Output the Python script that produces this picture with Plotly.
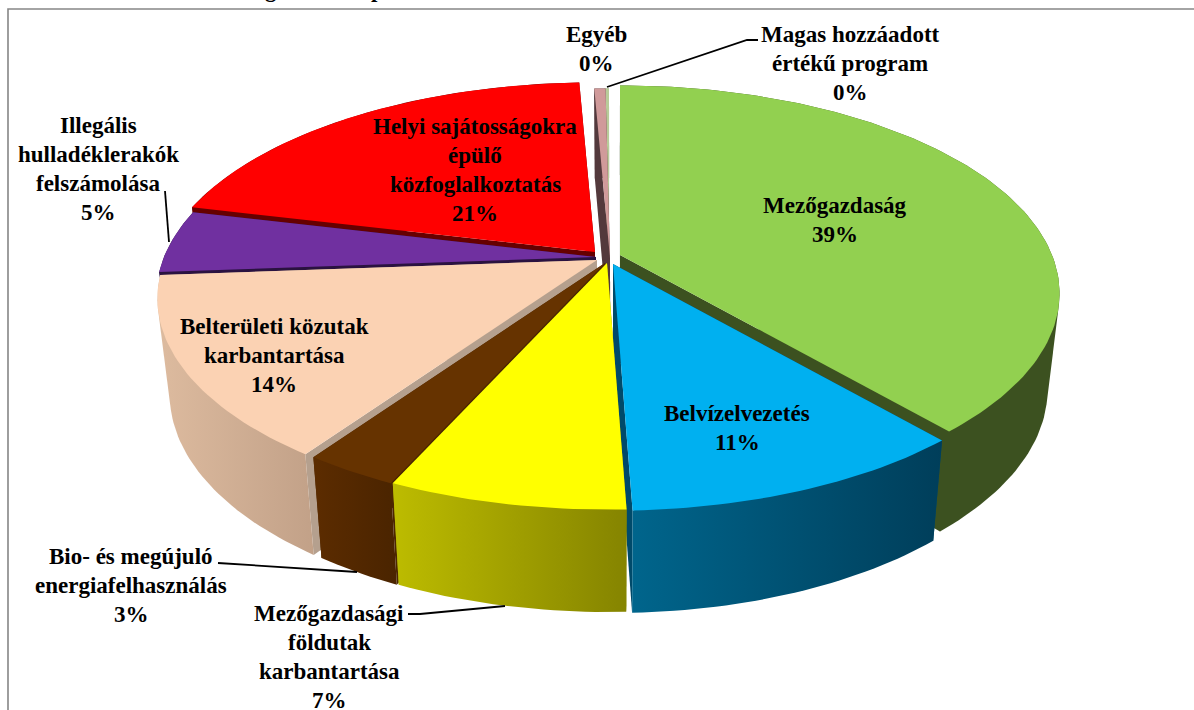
import math
import plotly.graph_objects as go

# ---- data ----
categories = ["Mezőgazdaság", "Belvízelvezetés", "Mezőgazdasági földutak karbantartása",
              "Bio- és megújuló energiafelhasználás", "Belterületi közutak karbantartása",
              "Illegális hulladéklerakók felszámolása",
              "Helyi sajátosságokra épülő közfoglalkoztatás", "Egyéb",
              "Magas hozzáadott értékű program"]
values = [39.4, 11, 7.5, 3, 14.4, 5, 21, 0.5, 0.2]
label_lines = [["Mezőgazdaság"], ["Belvízelvezetés"], ["Mezőgazdasági", "földutak", "karbantartása"],
               ["Bio- és megújuló", "energiafelhasználás"], ["Belterületi közutak", "karbantartása"],
               ["Illegális", "hulladéklerakók", "felszámolása"],
               ["Helyi sajátosságokra", "épülő", "közfoglalkoztatás"], ["Egyéb"],
               ["Magas hozzáadott", "értékű program"]]

# ---- styles ----
top_colors = ["#92D050", "#00B0F0", "#FFFF00", "#663300", "#FBD2B3", "#7030A0", "#FF0000", "#D09A9A", "#B8CC9A"]
cut_colors = ["#3C5120", "#004A6A", "#8A8900", "#4C2600", "#B5A08E", "#2A1240", "#660000", "#53393C", "#8A9A70"]
wall_left = ["#3C5120", "#00658C", "#BDBC00", "#5C2C00", "#DDBB9F", "#2A1240", "#660000", "#53393C", "#8A9A70"]
wall_right = ["#3C5120", "#003E5A", "#858400", "#4A2400", "#C2A188", "#2A1240", "#660000", "#53393C", "#8A9A70"]
FONT = "Liberation Serif"
FS = 23

# ---- drawing geometry (pixel space of the hidden axes) ----
RX, RY, K = 432, 201, 0.185
XC, SCALE = 615, 0.973
apex = [(620, 255), (613, 264), (607, 263), (605, 263), (597, 260), (596, 257), (595, 252), (610, 258), (609, 258)]
paint_order = [8, 7, 6, 5, 4, 3, 0, 1, 2]


def rim(ax, ay, theta):
    u, v = math.sin(theta), -math.cos(theta)
    s = 1 / (1 - K * v)
    return ax + s * RX * u, ay + s * RY * v


def lower(p):
    return XC + SCALE * (p[0] - XC), p[1] + 95 + 0.03 * (p[1] - 265)


def hull(points):
    pts = sorted(set(points))

    def half(seq):
        out = []
        for p in seq:
            while len(out) > 1 and (out[-1][0] - out[-2][0]) * (p[1] - out[-2][1]) - (out[-1][1] - out[-2][1]) * (p[0] - out[-2][0]) <= 0:
                out.pop()
            out.append(p)
        return out
    a, b = half(pts), half(pts[::-1])
    return a[:-1] + b[:-1]


def poly(pts, name, color=None, grad=None):
    xs = [p[0] for p in pts] + [pts[0][0]]
    ys = [p[1] for p in pts] + [pts[0][1]]
    kw = dict(fillgradient=dict(type="horizontal", colorscale=[[0, grad[0]], [1, grad[1]]])) if grad else dict(fillcolor=color)
    return go.Scatter(x=xs, y=ys, mode="lines", fill="toself", line=dict(width=0), name=name, hoverinfo="name", **kw)


fig = go.Figure()
total = sum(values)
edges = [0]
for val in values:
    edges.append(edges[-1] + val / total * 2 * math.pi)

for i in paint_order:
    ax, ay = apex[i]
    t0, t1 = edges[i], edges[i + 1]
    n = max(4, int((t1 - t0) / 0.02))
    arc = [rim(ax, ay, t0 + (t1 - t0) * j / n) for j in range(n + 1)]
    low = [lower(p) for p in arc]
    centre, centre_low = (ax, ay), lower((ax, ay))
    fig.add_trace(poly([centre, arc[0], low[0], centre_low], categories[i], color=cut_colors[i]))
    fig.add_trace(poly([centre, arc[-1], low[-1], centre_low], categories[i], color=cut_colors[i]))
    fig.add_trace(poly(hull(arc + low), categories[i], grad=(wall_left[i], wall_right[i])))
    fig.add_trace(poly([centre] + arc, categories[i], color=top_colors[i]))

# leader lines
leaders = [[(607, 87), (747, 40), (758, 40)],
           [(165, 191), (169, 242)],
           [(218, 563), (357, 572)],
           [(408, 614), (420, 614), (505, 606)]]
for pts in leaders:
    fig.add_trace(go.Scatter(x=[p[0] for p in pts], y=[p[1] for p in pts], mode="lines",
                             line=dict(color="black", width=1.8), hoverinfo="skip"))

# frame of the chart area (its bottom and right are cut off by the page)
fig.add_trace(go.Scatter(x=[8, 8, 1194], y=[710, 9, 9], mode="lines",
                         line=dict(color="#868686", width=1.6), hoverinfo="skip"))

label_anchor = [(835, 205), (737, 413), (329, 613), (131, 556), (274, 326), (98, 125), (475, 126), (596, 34), (850, 34)]
LINE = 29.2
for i, lines in enumerate(label_lines):
    cx, cy = label_anchor[i]
    texts = lines + [f"{round(values[i] / total * 100)}%"]
    for j, t in enumerate(texts):
        fig.add_annotation(x=cx, y=cy + j * LINE, text=f"<b>{t}</b>", showarrow=False, xanchor="center",
                           yanchor="middle", font=dict(family=FONT, size=FS, color="black"))

# the page cuts off the title above the frame: only these descenders are left
for letter, cx in (("g", 271), ("p", 377)):
    fig.add_annotation(x=cx, y=0, text=f"<b>{letter}</b>", showarrow=False, xanchor="center",
                       yanchor="middle", yshift=11, font=dict(family=FONT, size=FS, color="black"))

fig.update_layout(width=1194, height=710, autosize=False, showlegend=False,
                  margin=dict(l=0, r=0, t=0, b=0), paper_bgcolor="white", plot_bgcolor="white",
                  xaxis=dict(range=[0, 1194], visible=False, fixedrange=True),
                  yaxis=dict(range=[710, 0], visible=False, fixedrange=True))
fig.write_html("out.html", config=dict(displayModeBar=False),
               post_script="document.body.style.margin='0';document.documentElement.style.overflow='hidden';")
